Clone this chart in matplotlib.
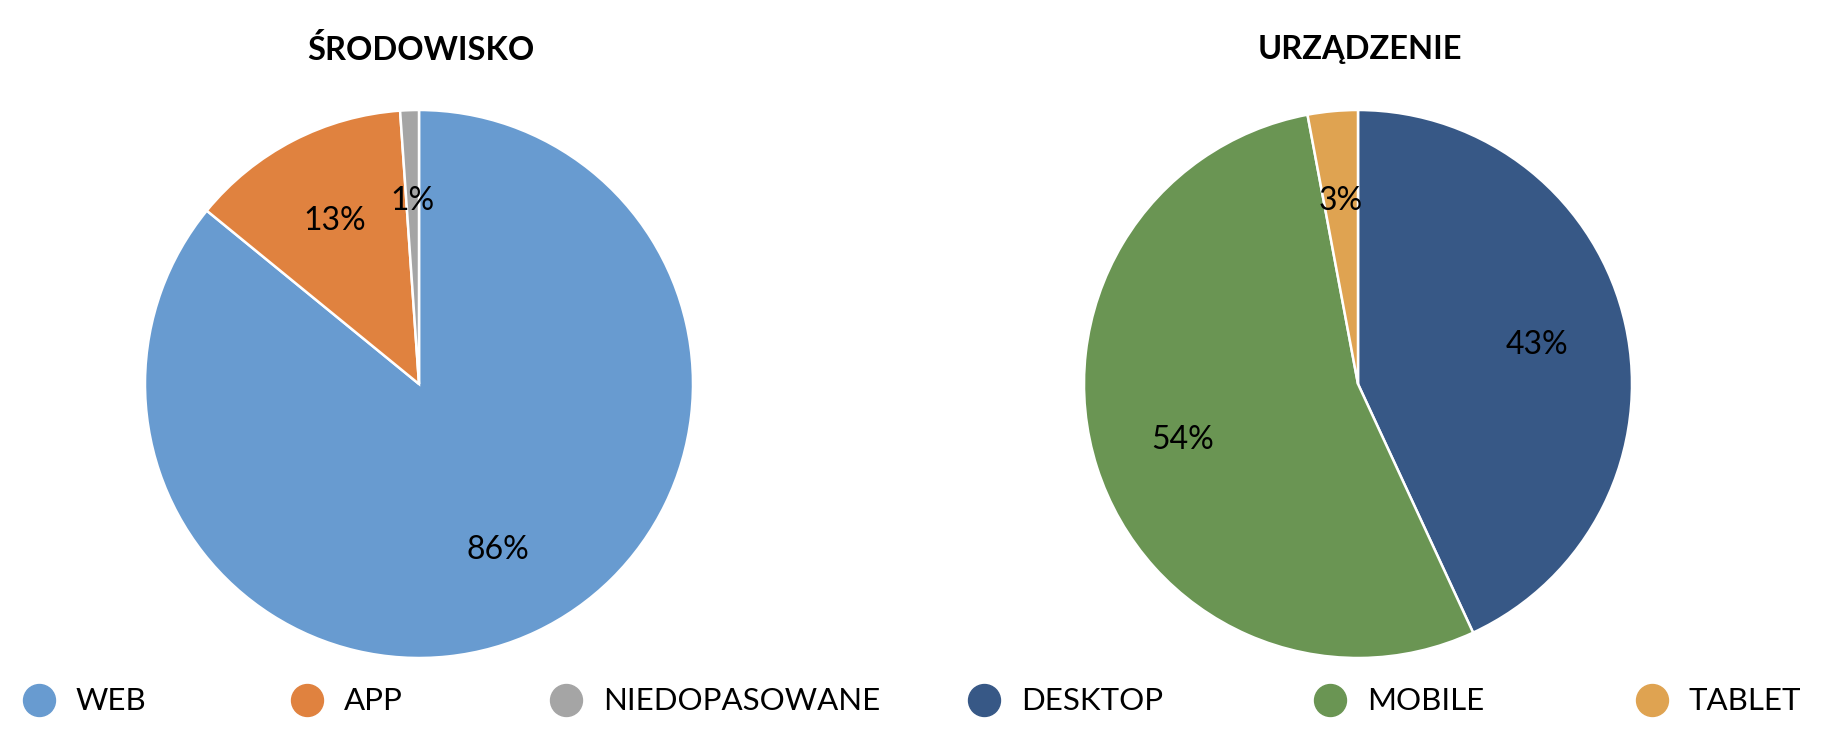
import matplotlib
matplotlib.use("Agg")
import matplotlib.pyplot as plt

# data
env_title = "ŚRODOWISKO"
env_labels = ["WEB", "APP", "NIEDOPASOWANE"]
env_values = [85.9, 13.0, 1.1]
env_colors = ["#689BD0", "#E0823F", "#A5A5A5"]

dev_title = "URZĄDZENIE"
dev_labels = ["DESKTOP", "MOBILE", "TABLET"]
dev_values = [43.1, 53.95, 2.95]
dev_colors = ["#375886", "#6A9553", "#DFA351"]

plt.rcParams["font.family"] = ["Lato", "DejaVu Sans"]

W, H = 1824, 753
fig = plt.figure(figsize=(W / 100, H / 100), dpi=100)


def pie_axes(cx, cy, r):
    # cx, cy in pixels from top-left
    return fig.add_axes([(cx - r) / W, (H - cy - r) / H, 2 * r / W, 2 * r / H])


def draw_pie(ax, values, colors, title, title_x):
    wedges, texts, autotexts = ax.pie(
        values, colors=colors, startangle=90, counterclock=False,
        autopct="%1.0f%%", pctdistance=0.67,
        wedgeprops=dict(edgecolor="white", linewidth=1.8),
        textprops=dict(fontsize=23, color="black"))
    ax.set_xlim(-1.0, 1.0)
    ax.set_ylim(-1.0, 1.0)
    ax.set_aspect("equal")
    ax.axis("off")
    fig.text(title_x / W, 1 - 50 / H, title, ha="center", va="center",
             fontsize=23.5, fontweight="bold")


ax1 = pie_axes(419, 384, 274)
draw_pie(ax1, env_values, env_colors, env_title, 421)
ax2 = pie_axes(1358, 384, 274)
draw_pie(ax2, dev_values, dev_colors, dev_title, 1360)

# legend
leg_x = [39, 307, 566, 984, 1330, 1652]
leg_y = 700
lax = fig.add_axes([0, 0, 1, 1])
lax.set_xlim(0, W)
lax.set_ylim(H, 0)
lax.axis("off")
for x, lab, col in zip(leg_x, env_labels + dev_labels, env_colors + dev_colors):
    lax.plot([x], [leg_y], marker="o", markersize=23, color=col, linestyle="none")
    lax.text(x + 37, leg_y + 1, lab, ha="left", va="center", fontsize=22.5)

fig.savefig("out.png", dpi=100)
